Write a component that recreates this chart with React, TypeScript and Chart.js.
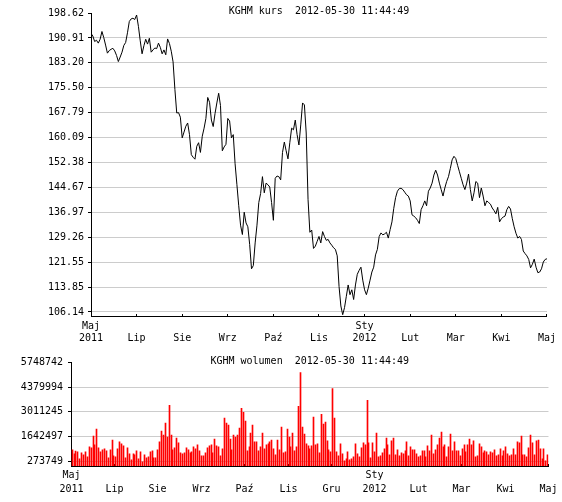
import React, { useEffect, useRef } from 'react';
import { Chart, registerables, LinearScale } from 'chart.js';

class SnapLinearScale extends LinearScale {
  static id = 'snapLinear';
  getPixelForValue(value: number, index?: number) {
    return Math.floor(super.getPixelForValue(value, index)) + 0.5;
  }
}
Chart.register(...registerables, SnapLinearScale);

const FONT = 'DejaVu Sans Mono';

const PRICE_TITLE = 'KGHM kurs  2012-05-30 11:44:49';
const VOLUME_TITLE = 'KGHM wolumen  2012-05-30 11:44:49';

const PRICE_TICKS = ['106.14', '113.85', '121.55', '129.26', '136.97', '144.67', '152.38', '160.09', '167.79', '175.50', '183.20', '190.91', '198.62'];
const VOLUME_TICKS = [273749, 1642497, 3011245, 4379994, 5748742];

const PRICE_X_LABELS = [
  ['Maj', '2011'], ['', 'Lip'], ['', 'Sie'], ['', 'Wrz'], ['', 'Paź'], ['', 'Lis'],
  ['Sty', '2012'], ['', 'Lut'], ['', 'Mar'], ['', 'Kwi'], ['', 'Maj'],
];
const VOLUME_X_LABELS = [
  ['Maj', '2011'], ['', 'Lip'], ['', 'Sie'], ['', 'Wrz'], ['', 'Paź'], ['', 'Lis'], ['', 'Gru'],
  ['Sty', '2012'], ['', 'Lut'], ['', 'Mar'], ['', 'Kwi'], ['', 'Maj'],
];

const PRICE = [
  192.3, 191.5, 189.8, 190.2, 189.3, 190.5, 192.9, 191.0, 188.7, 186.2, 187.0,
  187.4,
  187.7, 186.9, 185.5, 183.6, 185.0, 186.5, 188.6, 189.5, 192.5, 196.0, 196.8, 197.0, 196.6, 198.0, 194.5, 190.0, 186.0, 188.5, 190.5, 189.0, 190.8, 186.5,
  187.2,
  187.8, 187.6, 189.3, 188.0, 186.0, 187.2, 185.7, 190.6, 189.2, 186.8, 183.5, 175.0, 167.7, 167.8, 166.4, 160.0, 161.8, 163.6, 164.6, 161.0, 154.8,
  154.0,
  153.4, 157.4, 158.5, 155.5, 160.5, 163.0, 166.0, 172.5, 171.0, 165.5, 163.5, 167.5, 170.8, 173.8, 170.0, 156.0, 157.2, 158.0, 166.0, 165.2, 160.0, 161.0,
  152.0,
  145.5, 139.0, 133.0, 130.1, 137.0, 133.7, 132.5, 127.0, 119.5, 120.5, 127.5, 133.0, 140.0, 142.8, 148.0, 143.0, 146.0, 145.5, 144.8, 140.0, 134.5, 147.5,
  148.2,
  148.0, 147.0, 155.5, 158.7, 156.0, 153.5, 158.5, 163.0, 162.5, 165.5, 161.0, 157.8, 164.0, 170.8, 170.2, 161.5, 141.0, 130.8, 131.5, 125.8, 126.5,
  128.0,
  129.5, 127.5, 131.0, 129.5, 128.3, 128.6, 127.5, 126.8, 126.0, 125.5, 123.5, 114.0, 108.0, 105.3, 107.5, 111.0, 114.5, 111.5, 113.0, 110.0, 114.5, 117.8,
  119.0,
  120.0, 116.0, 113.0, 111.5, 113.5, 116.0, 118.5, 120.0, 123.8, 125.5, 129.5, 130.6, 130.0, 130.3, 130.8, 129.0, 131.6, 134.0, 138.2, 141.5, 143.5, 144.3,
  144.4,
  144.0, 143.2, 142.4, 142.0, 140.5, 136.2, 135.8, 135.3, 134.5, 133.5, 137.8, 139.0, 140.5, 139.0, 143.5, 144.5, 146.0, 148.5, 150.0, 148.5, 146.0,
  144.0,
  142.0, 144.5, 146.5, 148.0, 150.5, 153.2, 154.3, 153.6, 151.5, 149.5, 147.5, 145.5, 144.0, 146.0, 148.8, 144.0, 140.5, 143.0, 146.5, 146.0, 141.5, 144.5,
  142.0,
  139.0, 140.5, 140.0, 139.5, 138.3, 137.5, 136.5, 138.5, 134.0, 135.0, 135.5, 135.8, 137.8, 138.8, 138.0, 135.0, 132.5, 130.5, 129.0, 129.5, 128.6, 125.0,
  124.2,
  123.5, 122.4, 119.8, 120.9, 122.5, 120.0, 118.3, 118.5, 119.5, 121.6, 122.4, 122.6,
];

const VOLUME = [
  896500, 676500, 825000, 786500, 401500, 731500, 621500, 786500, 511500, 1061500,
  1006500, 1666500, 1171500, 2051500, 1006500, 786500, 896500, 951500, 841500, 456500,
  896500, 1446500, 566500, 511500, 951500, 1336500, 1226500, 1116500, 456500, 1006500,
  676500, 346500, 676500, 621500, 841500, 401500, 786500, 236500, 621500, 456500,
  511500, 786500, 841500, 456500, 456500, 896500, 1336500, 1941500, 1721500, 2381500,
  1611500, 3371500, 1721500, 896500, 1006500, 1556500, 1281500, 731500, 676500, 731500,
  1006500, 896500, 731500, 786500, 1061500, 951500, 1171500, 841500, 566500, 566500,
  731500, 1006500, 1116500, 1171500, 731500, 1501500, 1116500, 1061500, 566500, 951500,
  2656500, 2381500, 2271500, 1501500, 896500, 1721500, 1611500, 1721500, 2106500, 3206500,
  2986500, 2491500, 841500, 1061500, 1831500, 2271500, 1336500, 1336500, 841500, 1061500,
  1831500, 951500, 1171500, 1226500, 1336500, 1446500, 951500, 621500, 1446500, 896500,
  2161500, 731500, 786500, 2051500, 1611500, 1061500, 1831500, 841500, 1061500, 3316500,
  5186500, 2161500, 1776500, 1226500, 1116500, 951500, 1116500, 2711500, 1171500, 1226500,
  731500, 2876500, 2326500, 2436500, 1391500, 896500, 786500, 4306500, 2656500, 786500,
  566500, 1226500, 676500, 291500, 401500, 786500, 346500, 401500, 511500, 1226500,
  676500, 511500, 1006500, 1281500, 1171500, 3646500, 1281500, 456500, 1281500, 786500,
  1831500, 511500, 566500, 731500, 951500, 1556500, 1171500, 621500, 1391500, 1556500,
  621500, 896500, 566500, 731500, 676500, 841500, 1336500, 566500, 1061500, 896500,
  896500, 676500, 511500, 566500, 841500, 841500, 511500, 1116500, 841500, 1721500,
  676500, 896500, 1171500, 1556500, 1886500, 1061500, 1171500, 511500, 1061500, 1776500,
  841500, 1336500, 841500, 841500, 566500, 951500, 1171500, 786500, 1171500, 1501500,
  1171500, 1391500, 511500, 566500, 1226500, 1061500, 731500, 841500, 786500, 621500,
  786500, 731500, 896500, 566500, 621500, 951500, 566500, 841500, 1061500, 676500,
  566500, 621500, 951500, 621500, 1336500, 1281500, 1666500, 621500, 621500, 511500,
  1006500, 1721500, 1281500, 621500, 1391500, 1446500, 951500, 401500, 951500, 291500,
  621500,
];

const GRID = '#cccccc';

function titlePlugin(text: string) {
  return {
    id: 'plotTitle',
    afterDraw(chart: any) {
      const { ctx, chartArea } = chart;
      ctx.save();
      ctx.font = `10px "${FONT}"`;
      ctx.fillStyle = '#000';
      ctx.textAlign = 'center';
      ctx.textBaseline = 'middle';
      ctx.fillText(text, (chartArea.left + chartArea.right) / 2, chartArea.top - 1.5);
      ctx.restore();
    },
  };
}

export default function App() {
  const topRef = useRef<HTMLCanvasElement>(null);
  const botRef = useRef<HTMLCanvasElement>(null);

  useEffect(() => {
    document.body.style.margin = '0';
    Chart.defaults.font.family = FONT;
    Chart.defaults.font.size = 10;
    Chart.defaults.color = '#000';

    const priceMin = 104.9;
    const priceMax = parseFloat(PRICE_TICKS[PRICE_TICKS.length - 1]);

    const top = new Chart(topRef.current!, {
      type: 'line',
      data: {
        datasets: [{
          data: PRICE.map((y, x) => ({ x, y })),
          borderColor: '#000',
          borderWidth: 1,
          pointRadius: 0,
          tension: 0,
          fill: false,
        }],
      },
      options: {
        responsive: false,
        animation: false,
        events: [],
        layout: { padding: { top: 13, right: 11, left: 0, bottom: 0 } },
        plugins: { legend: { display: false }, tooltip: { enabled: false } },
        scales: {
          x: {
            type: 'linear',
            min: 0,
            max: PRICE.length - 1,
            afterBuildTicks: (scale: any) => {
              scale.ticks = PRICE_X_LABELS.map((_, k) => ({ value: (k * (PRICE.length - 1)) / (PRICE_X_LABELS.length - 1) }));
            },
            afterFit: (scale: any) => { scale.height = 30; },
            ticks: {
              autoSkip: false,
              maxRotation: 0,
              minRotation: 0,
              padding: 6,
              color: '#000',
              font: { family: FONT, size: 10, lineHeight: 1.2 },
              callback: (_v: any, i: number) => PRICE_X_LABELS[i],
            },
            grid: { drawOnChartArea: false, drawTicks: true, tickLength: -2, tickColor: '#000' },
            border: { display: true, color: '#000', width: 1 },
          },
          y: {
            type: 'linear',
            min: priceMin,
            max: priceMax,
            afterBuildTicks: (scale: any) => {
              scale.ticks = PRICE_TICKS.map((t) => ({ value: parseFloat(t) }));
            },
            afterFit: (scale: any) => { scale.width = 91; },
            ticks: {
              padding: 4,
              color: '#000',
              font: { family: FONT, size: 10 },
              callback: (_v: any, i: number) => PRICE_TICKS[i],
            },
            grid: {
              color: (ctx: any) => (ctx.index === PRICE_TICKS.length - 1 ? 'rgba(0,0,0,0)' : GRID),
              tickColor: '#000',
              tickLength: 3,
            },
            border: { display: true, color: '#000', width: 1 },
          },
        },
      },
      plugins: [titlePlugin(PRICE_TITLE)],
    } as any);

    const vMin = -0.6;
    const vMax = VOLUME.length - 1 + 0.4;

    const bottom = new Chart(botRef.current!, {
      type: 'bar',
      data: {
        datasets: [{
          data: VOLUME.map((y, x) => ({ x, y })),
          backgroundColor: '#ff0000',
          borderWidth: 0,
          barThickness: 1,
        }],
      },
      options: {
        responsive: false,
        animation: false,
        events: [],
        layout: { padding: { top: 16.5, right: 11, left: 0, bottom: 0 } },
        plugins: { legend: { display: false }, tooltip: { enabled: false } },
        scales: {
          x: {
            type: 'snapLinear',
            min: vMin,
            max: vMax,
            offset: false,
            afterBuildTicks: (scale: any) => {
              scale.ticks = VOLUME_X_LABELS.map((_, k) => ({ value: vMin + (k * (vMax - vMin)) / (VOLUME_X_LABELS.length - 1) }));
            },
            afterFit: (scale: any) => { scale.height = 36; },
            ticks: {
              autoSkip: false,
              maxRotation: 0,
              minRotation: 0,
              padding: 4,
              color: '#000',
              font: { family: FONT, size: 10, lineHeight: 1.4 },
              callback: (_v: any, i: number) => VOLUME_X_LABELS[i],
            },
            grid: { offset: false, drawOnChartArea: false, drawTicks: true, tickLength: -2, tickColor: '#000' },
            border: { display: true, color: '#000', width: 1 },
          },
          y: {
            type: 'linear',
            min: 0,
            max: VOLUME_TICKS[VOLUME_TICKS.length - 1],
            afterBuildTicks: (scale: any) => {
              scale.ticks = VOLUME_TICKS.map((v) => ({ value: v }));
            },
            afterFit: (scale: any) => { scale.width = 71; },
            ticks: {
              padding: 5,
              color: '#000',
              font: { family: FONT, size: 10 },
              callback: (_v: any, i: number) => String(VOLUME_TICKS[i]),
            },
            grid: {
              color: (ctx: any) => (ctx.index === VOLUME_TICKS.length - 1 ? 'rgba(0,0,0,0)' : GRID),
              tickColor: '#000',
              tickLength: 3,
            },
            border: { display: true, color: '#000', width: 1 },
          },
        },
      },
      plugins: [titlePlugin(VOLUME_TITLE)],
    } as any);

    return () => {
      top.destroy();
      bottom.destroy();
    };
  }, []);

  return (
    <div style={{ width: 562, height: 502, background: '#fff' }}>
      <canvas ref={topRef} width={562} height={346} style={{ display: 'block' }} />
      <canvas ref={botRef} width={562} height={156} style={{ display: 'block' }} />
    </div>
  );
}
